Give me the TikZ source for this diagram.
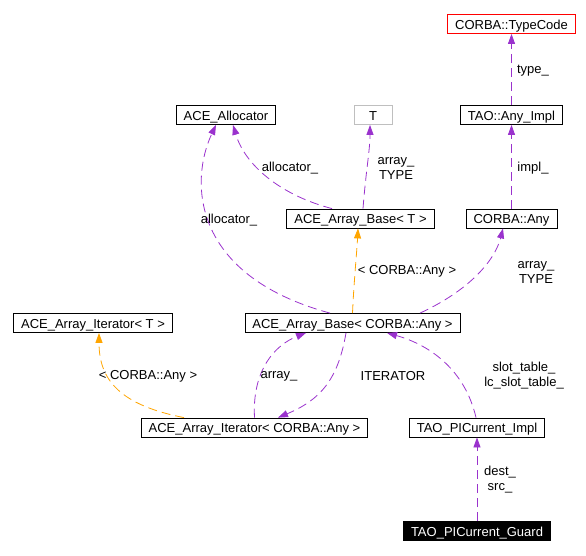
\documentclass[tikz,border=0pt]{standalone}
\usepackage{fontspec}
\setmainfont{Liberation Sans}
\usetikzlibrary{arrows.meta}
\definecolor{relcol}{RGB}{154,50,205}
\definecolor{instcol}{RGB}{255,165,0}
\tikzset{
	cls/.style={draw, rectangle, inner xsep=7.5pt, inner ysep=0pt, minimum height=19pt, text height=10.5pt, text depth=0pt, line width=0.8pt, font=\fontsize{13}{15}\selectfont},
	lbl/.style={align=center, inner sep=0pt, font=\fontsize{13}{15}\selectfont},
	rel/.style={draw=relcol, line width=0.8pt, dash pattern=on 9pt off 5pt, -{Triangle[length=10pt,width=7pt,fill=relcol]}},
	inst/.style={draw=instcol, line width=0.8pt, dash pattern=on 9pt off 5pt, -{Triangle[length=10pt,width=7pt,fill=instcol]}}
}
\begin{document}
\begin{tikzpicture}[x=1pt, y=-1pt]
	\useasboundingbox (0,0) rectangle (586,555);
	\node (typecode) at (511.5,24) [cls, draw=red] {CORBA::TypeCode};
	\node (anyimpl) at (511.5,115) [cls] {TAO::Any\_Impl};
	\node (any) at (511.5,218.5) [cls] {CORBA::Any};
	\node (allocator) at (226,115) [cls] {ACE\_Allocator};
	\node (T) at (373,115) [cls, draw=black!25, minimum width=38pt] {T};
		\node (basetmpl) at (360.5,218.5) [cls] {ACE\_Array\_Base< T >};
		\node (baseany) at (352.5,323) [cls] {ACE\_Array\_Base< CORBA::Any >};
		\node (itertmpl) at (93,323) [cls] {ACE\_Array\_Iterator< T >};
			\node (iterany) at (254.5,427.5) [cls] {ACE\_Array\_Iterator< CORBA::Any >};
			\node (impl) at (477,427.5) [cls] {TAO\_PICurrent\_Impl};
			\node (guard) at (477,531) [cls, fill=black, text=white] {TAO\_PICurrent\_Guard};
	\draw[rel] ([xshift=2.5pt]basetmpl.north) .. controls (366,170) and (370,150) .. ([xshift=-3pt]T.south);
	\draw[rel] ([xshift=-28.5pt]basetmpl.north) .. controls (280,195) and (245,165) .. ([xshift=7pt]allocator.south);
	\draw[rel] ([xshift=-22.5pt]baseany.north) .. controls (190,275) and (190,180) .. ([xshift=-10pt]allocator.south);
	\draw[inst] (baseany.north) .. controls (354,280) and (357,250) .. ([xshift=-2.5pt]basetmpl.south);
	\draw[rel] ([xshift=67.5pt]baseany.north) .. controls (470,290) and (495,260) .. ([xshift=-8.5pt]any.south);
	\draw[rel] (anyimpl.north) -- (typecode.south);
	\draw[rel] (any.north) -- (anyimpl.south);
	\draw[inst] ([xshift=-70.5pt]iterany.north) .. controls (120,405) and (99,380) .. ([xshift=6pt]itertmpl.south);
	\draw[rel] (iterany.north) .. controls (252,370) and (275,345) .. ([xshift=-46.5pt]baseany.south);
	\draw[rel] ([xshift=-6.5pt]baseany.south) .. controls (338,380) and (320,400) .. ([xshift=23.5pt]iterany.north);
	\draw[rel] ([xshift=-1pt]impl.north) .. controls (465,370) and (430,345) .. ([xshift=34.5pt]baseany.south);
	\draw[rel] (guard.north) -- (impl.south);
	% member labels
	\node (l1) at (396,168) [lbl] {array\_\\TYPE};
	\node (l2) at (290,168) [lbl] {allocator\_};
	\node (l3) at (229,220) [lbl] {allocator\_};
	\node (l4) at (407,271) [lbl] {< CORBA::Any >};
	\node (l5) at (536,272) [lbl] {array\_\\TYPE};
	\node (l6) at (533,71) [lbl] {type\_};
	\node (l7) at (533,168) [lbl] {impl\_};
	\node (l8) at (148,376) [lbl] {< CORBA::Any >};
	\node (l9) at (279,376) [lbl] {array\_};
	\node (l10) at (393,376) [lbl] {ITERATOR};
	\node (l11) at (524,376) [lbl] {slot\_table\_\\lc\_slot\_table\_};
	\node (l12) at (500,480) [lbl] {dest\_\\src\_};
\end{tikzpicture}
\end{document}
